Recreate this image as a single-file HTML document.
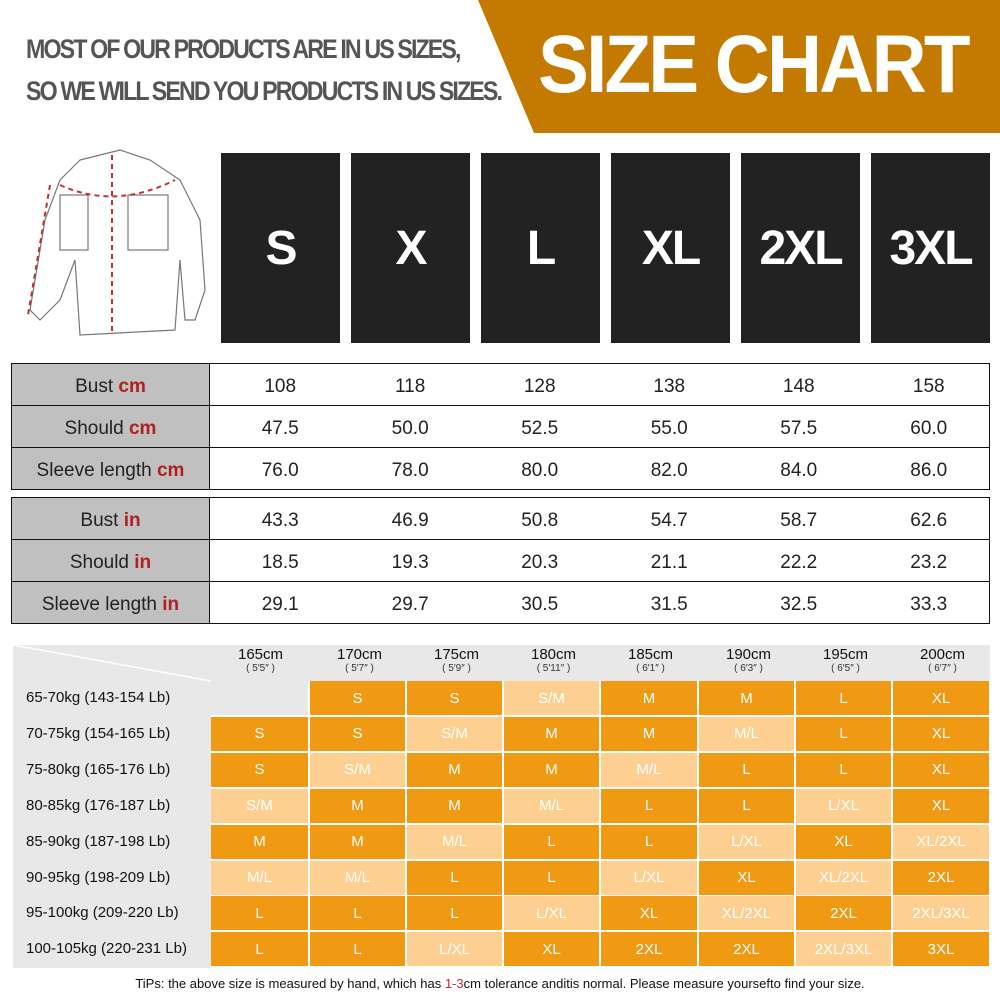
<!DOCTYPE html>
<html><head><meta charset="utf-8"><style>
*{margin:0;padding:0;box-sizing:border-box}
body{width:1000px;height:1000px;background:#fff;position:relative;overflow:hidden;font-family:"Liberation Sans",sans-serif}
.abs{position:absolute}
.hdr{left:26px;color:#555;font-weight:bold;font-size:27px;letter-spacing:-2.2px;transform:scaleX(0.86);transform-origin:left;white-space:nowrap}
.box{position:absolute;top:153px;width:119px;height:190px;background:#222;color:#fff;font-weight:bold;font-size:48px;display:flex;align-items:center;justify-content:center;letter-spacing:-2px}
table.m{position:absolute;left:11px;width:979px;border-collapse:collapse}
table.m td{border:1.5px solid #111;height:42px;text-align:center;font-size:19px;color:#222;padding-top:5px}
table.m td.l{width:198px;background:#c0c0c0;border-right:1.5px solid #111}
table.m td.v{border-left:none;border-right:none;padding-left:10px}
table.m td.v:last-child{border-right:1.5px solid #111}
.r{color:#b02020;font-weight:bold}
.grid{position:absolute;left:13px;top:645px;width:977px;height:323px;background:#e8e8e8}
.cell{position:absolute;color:#fff;font-size:15px;display:flex;align-items:center;justify-content:center;border-right:2px solid #fff;border-bottom:2px solid #fff}
.d{background:#f09a14}.lt{background:#fdd092}
.wl{position:absolute;left:26px;font-size:15px;color:#111}
.hh{position:absolute;top:646px;width:97px;text-align:center;font-size:15px;color:#111;line-height:17px}
.hh small{display:block;font-size:10px;color:#333;line-height:12px}
</style></head><body>
<div class="abs hdr" style="top:34px">MOST OF OUR PRODUCTS ARE IN US SIZES,</div>
<div class="abs hdr" style="top:76px">SO WE WILL SEND YOU PRODUCTS IN US SIZES.</div>
<svg class="abs" style="left:0;top:0" width="1000" height="140"><polygon points="478,0 1000,0 1000,133 534,133" fill="#c47a00"/></svg>
<div class="abs" style="left:538px;top:18px;color:#fff;font-weight:900;font-size:82px;letter-spacing:-3px;white-space:nowrap;transform:scaleX(0.93);transform-origin:left">SIZE CHART</div>
<svg class="abs" style="left:20px;top:140px" width="195" height="200" fill="none" stroke="#777" stroke-width="1.2">
<path d="M60,20 L100,10 L130,20 L160,40 L180,80 L185,150 L175,180 L165,180 L160,120 L155,190 L60,195 L55,120 L40,160 L20,180 L10,170 L25,80 L40,40 Z"/>
<rect x="40" y="55" width="28" height="55"/><rect x="108" y="55" width="40" height="55"/>
<path d="M92,15 L92,195" stroke-dasharray="5,4" stroke="#c03030" stroke-width="2"/>
<path d="M40,45 Q95,70 155,40" stroke-dasharray="5,4" stroke="#c03030" stroke-width="2"/>
<path d="M30,45 L8,175" stroke-dasharray="5,4" stroke="#c03030" stroke-width="2"/>
</svg>
<div class="box" style="left:221px">S</div>
<div class="box" style="left:351px">X</div>
<div class="box" style="left:481px">L</div>
<div class="box" style="left:611px">XL</div>
<div class="box" style="left:741px">2XL</div>
<div class="box" style="left:871px">3XL</div>

<table class="m" style="top:363px">
<tr><td class="l">Bust <span class="r">cm</span></td><td class="v">108</td><td class="v">118</td><td class="v">128</td><td class="v">138</td><td class="v">148</td><td class="v">158</td></tr>
<tr><td class="l">Should <span class="r">cm</span></td><td class="v">47.5</td><td class="v">50.0</td><td class="v">52.5</td><td class="v">55.0</td><td class="v">57.5</td><td class="v">60.0</td></tr>
<tr><td class="l">Sleeve length <span class="r">cm</span></td><td class="v">76.0</td><td class="v">78.0</td><td class="v">80.0</td><td class="v">82.0</td><td class="v">84.0</td><td class="v">86.0</td></tr>
</table>
<table class="m" style="top:497px">
<tr><td class="l">Bust <span class="r">in</span></td><td class="v">43.3</td><td class="v">46.9</td><td class="v">50.8</td><td class="v">54.7</td><td class="v">58.7</td><td class="v">62.6</td></tr>
<tr><td class="l">Should <span class="r">in</span></td><td class="v">18.5</td><td class="v">19.3</td><td class="v">20.3</td><td class="v">21.1</td><td class="v">22.2</td><td class="v">23.2</td></tr>
<tr><td class="l">Sleeve length <span class="r">in</span></td><td class="v">29.1</td><td class="v">29.7</td><td class="v">30.5</td><td class="v">31.5</td><td class="v">32.5</td><td class="v">33.3</td></tr>
</table>

<div class="grid"></div>
<svg class="abs" style="left:13px;top:645px" width="200" height="40"><line x1="0" y1="0" x2="198" y2="36" stroke="#fff" stroke-width="1.5"/></svg>
<div id="g"></div>
<div class="abs" style="left:0;top:976px;width:1000px;text-align:center;font-size:13px;color:#111">TiPs: the above size is measured by hand, which has <span style="color:#c03030">1-3</span>cm tolerance anditis normal. Please measure yoursefto find your size.</div>
<script>
var hs=[["165cm","5′5″"],["170cm","5′7″"],["175cm","5′9″"],["180cm","5′11″"],["185cm","6′1″"],["190cm","6′3″"],["195cm","6′5″"],["200cm","6′7″"]];
var ws=["65-70kg (143-154 Lb)","70-75kg (154-165 Lb)","75-80kg (165-176 Lb)","80-85kg (176-187 Lb)","85-90kg (187-198 Lb)","90-95kg (198-209 Lb)","95-100kg (209-220 Lb)","100-105kg (220-231 Lb)"];
var D=[["","S","S","S/M*","M","M","L","XL"],
["S","S","S/M*","M","M","M/L*","L","XL"],
["S","S/M*","M","M","M/L*","L","L","XL"],
["S/M*","M","M","M/L*","L","L","L/XL*","XL"],
["M","M","M/L*","L","L","L/XL*","XL","XL/2XL*"],
["M/L*","M/L*","L","L","L/XL*","XL","XL/2XL*","2XL"],
["L","L","L","L/XL*","XL","XL/2XL*","2XL","2XL/3XL*"],
["L","L","L/XL*","XL","2XL","2XL","2XL/3XL*","3XL"]];
var xs=[211,310,407,504,601,699,796,893,991],h="";
for(var c=0;c<8;c++)h+='<div class="hh" style="left:'+(xs[c]+1)+'px">'+hs[c][0]+'<small>( '+hs[c][1]+' )</small></div>';
for(var r=0;r<8;r++){var y=681+r*35.9;
h+='<div class="wl" style="top:'+(y+8)+'px">'+ws[r]+'</div>';
for(var c=0;c<8;c++){var v=D[r][c],cls="d";if(v==""){cls="";}else if(v.indexOf("*")>0){cls="lt";v=v.replace("*","");}
h+='<div class="cell '+cls+'" style="left:'+xs[c]+'px;top:'+y+'px;width:'+(xs[c+1]-xs[c])+'px;height:36px">'+v+'</div>';}}
document.getElementById("g").innerHTML=h;
</script>
</body></html>
